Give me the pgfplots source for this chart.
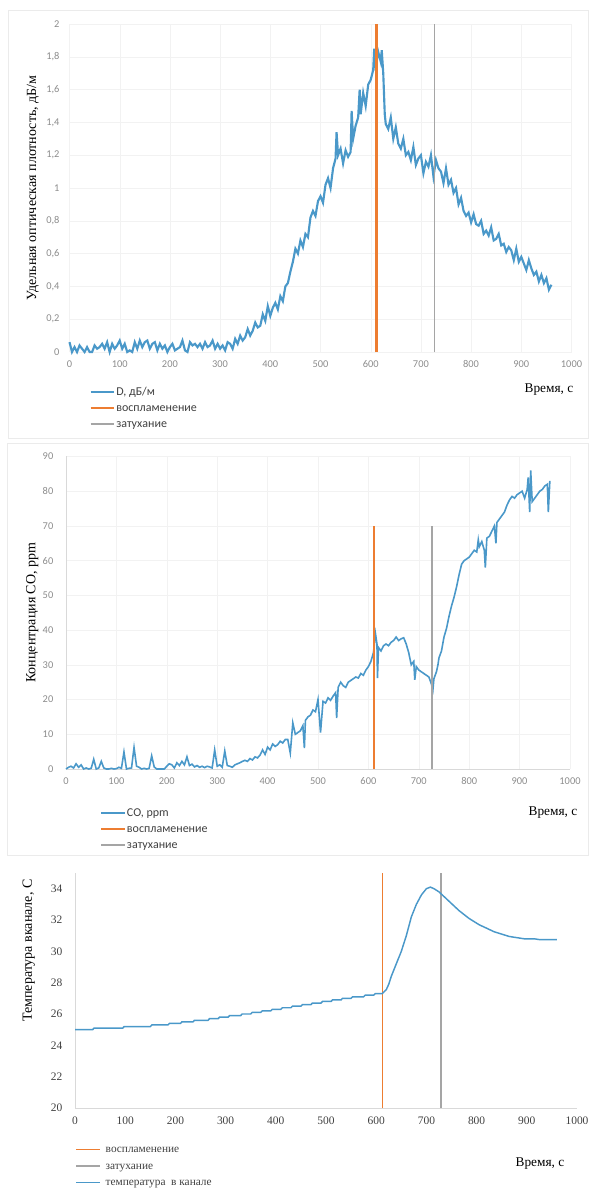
\documentclass[border=0pt]{standalone}
\usepackage{fontspec}
\setmainfont{Liberation Serif}
\newfontfamily\carl{Carlito}
\usepackage{pgfplots}
\usepackage{pgfplotstable}
\pgfplotsset{compat=1.18}
\definecolor{cblue}{RGB}{74,152,201}
\definecolor{corange}{RGB}{237,125,49}
\definecolor{cgray}{RGB}{165,165,165}
\definecolor{tickg}{RGB}{140,140,140}
\definecolor{legtxt}{RGB}{64,64,64}
\definecolor{axg}{RGB}{217,217,217}

\pgfplotstableread[row sep=\\]{
t D\\
0 0.06\\ 5 0\\ 10 0.03\\ 15 0\\ 20 0.04\\ 25 0.02\\ 30 0\\ 35 0.03\\ 40 0\\ 45 0\\
50 0.04\\ 55 0.02\\ 60 0.03\\ 65 0.05\\ 70 0.02\\ 75 0.06\\ 80 0\\ 85 0.05\\ 90 0.02\\ 95 0.04\\
100 0.07\\ 105 0.02\\ 110 0.05\\ 115 0\\ 120 0.01\\ 125 0\\ 130 0.06\\ 135 0.02\\ 140 0.07\\ 145 0.03\\
150 0.06\\ 155 0.07\\ 160 0.02\\ 165 0.05\\ 170 0.06\\ 175 0.01\\ 180 0.05\\ 185 0.02\\ 190 0.04\\ 195 0\\
200 0.03\\ 205 0.05\\ 210 0.01\\ 215 0.02\\ 220 0.03\\ 225 0.07\\ 230 0.01\\ 235 0\\ 240 0.06\\ 245 0.04\\
250 0.05\\ 255 0.03\\ 260 0.05\\ 265 0.02\\ 270 0.06\\ 275 0.03\\ 280 0.04\\ 285 0.07\\ 290 0.02\\ 295 0.05\\
300 0.02\\ 305 0.04\\ 310 0.01\\ 315 0.06\\ 320 0.05\\ 325 0.02\\ 330 0.08\\ 335 0.05\\ 340 0.1\\ 345 0.07\\
350 0.09\\ 355 0.14\\ 360 0.1\\ 365 0.13\\ 370 0.18\\ 375 0.15\\ 380 0.16\\ 385 0.23\\ 390 0.19\\ 395 0.28\\
400 0.22\\ 405 0.27\\ 410 0.3\\ 415 0.26\\ 420 0.34\\ 425 0.31\\ 430 0.4\\ 435 0.42\\ 440 0.49\\ 445 0.55\\
450 0.63\\ 455 0.6\\ 460 0.68\\ 465 0.64\\ 470 0.72\\ 475 0.7\\ 480 0.82\\ 485 0.86\\ 490 0.83\\ 495 0.92\\
500 0.95\\ 505 0.91\\ 510 1.02\\ 515 1.06\\ 520 1.0\\ 525 1.12\\ 530 1.18\\ 532 1.34\\ 535 1.2\\ 540 1.24\\
545 1.15\\ 550 1.23\\ 555 1.19\\ 560 1.22\\ 562 1.47\\ 565 1.3\\ 570 1.38\\ 575 1.43\\ 578 1.6\\ 580 1.45\\
585 1.58\\ 590 1.5\\ 595 1.63\\ 600 1.66\\ 605 1.72\\ 607 1.85\\ 610 1.74\\ 615 1.83\\ 620 1.77\\ 622 1.84\\
625 1.7\\ 628 1.45\\ 630 1.39\\ 635 1.36\\ 640 1.43\\ 645 1.3\\ 650 1.37\\ 655 1.27\\ 660 1.24\\ 665 1.3\\
670 1.2\\ 675 1.22\\ 680 1.17\\ 685 1.25\\ 690 1.14\\ 695 1.18\\ 700 1.2\\ 705 1.09\\ 710 1.16\\ 715 1.13\\
720 1.2\\ 725 1.07\\ 730 1.17\\ 735 1.12\\ 740 1.1\\ 745 1.03\\ 750 1.12\\ 755 1.02\\ 760 1.05\\ 765 0.97\\
770 1.0\\ 775 0.9\\ 780 0.94\\ 785 0.86\\ 790 0.83\\ 795 0.85\\ 800 0.79\\ 805 0.84\\ 810 0.78\\ 815 0.77\\
820 0.8\\ 825 0.72\\ 830 0.74\\ 835 0.71\\ 840 0.76\\ 845 0.68\\ 850 0.69\\ 855 0.72\\ 860 0.65\\ 865 0.66\\
870 0.61\\ 875 0.64\\ 880 0.62\\ 885 0.56\\ 890 0.63\\ 895 0.55\\ 900 0.58\\ 905 0.54\\ 910 0.5\\ 915 0.56\\
920 0.51\\ 925 0.47\\ 930 0.49\\ 935 0.43\\ 940 0.47\\ 945 0.42\\ 950 0.45\\ 955 0.38\\ 960 0.41\\
}\Ddata

\pgfplotstableread[row sep=\\]{
t CO\\
0 0\\ 5 0.5\\ 10 0.8\\ 15 0.3\\ 20 1.5\\ 25 0.5\\ 30 1.2\\ 35 0\\ 40 0.3\\ 45 0\\
50 0.2\\ 55 2.8\\ 60 0\\ 65 0.3\\ 70 2.2\\ 75 0.3\\ 80 0\\ 85 0\\ 90 0.2\\ 95 0\\
100 0.1\\ 105 0.5\\ 110 0.2\\ 115 4.9\\ 120 0\\ 125 0.2\\ 130 0.3\\ 135 6.2\\ 140 0.8\\ 145 0.5\\
150 0\\ 155 0.2\\ 160 0\\ 165 0.2\\ 170 3.8\\ 175 0.6\\ 180 0\\ 185 0\\ 190 0\\ 195 0\\
200 0.8\\ 205 1.5\\ 210 1.2\\ 215 0.3\\ 220 1.8\\ 225 1\\ 230 2.2\\ 235 1.2\\ 240 3.5\\ 245 1\\
250 1.4\\ 255 0.6\\ 260 1\\ 265 0.5\\ 270 0.8\\ 275 0.4\\ 280 0.8\\ 285 0.6\\ 290 0.3\\ 295 5.5\\
300 0.8\\ 305 1.2\\ 310 0.5\\ 315 5.2\\ 320 1\\ 325 0.8\\ 330 0.5\\ 335 1.2\\ 340 1.5\\ 345 1.8\\
350 2.2\\ 355 2.5\\ 360 2.2\\ 365 3\\ 370 2.6\\ 375 3.5\\ 380 3.2\\ 385 4\\ 390 5.5\\ 395 4.2\\
400 6.3\\ 405 5.5\\ 410 7.2\\ 415 6.5\\ 420 7\\ 425 8\\ 430 7.5\\ 435 8.5\\ 440 8.5\\ 445 4.6\\
450 13.3\\ 455 10\\ 460 10.5\\ 465 11\\ 470 12.5\\ 473 6\\ 475 14\\ 480 15\\ 485 15.5\\ 490 17\\
495 16.5\\ 500 20\\ 505 10.5\\ 510 19.5\\ 515 19\\ 520 20.5\\ 525 19.8\\ 530 21\\ 535 22\\ 537 14.7\\
540 23.5\\ 545 25\\ 550 24\\ 555 23.5\\ 560 25\\ 565 25.5\\ 570 26\\ 575 26.5\\ 580 26.2\\ 585 27.5\\
590 27\\ 595 28.5\\ 600 29.5\\ 605 31\\ 610 33.5\\ 614 39\\ 617 36\\ 618 26.2\\ 620 35\\ 625 34\\
630 35.5\\ 635 36\\ 640 35.5\\ 645 36.5\\ 650 37\\ 655 38\\ 660 37\\ 665 37.5\\ 670 37.8\\ 675 36\\
680 33.5\\ 685 30\\ 690 31\\ 692 25.7\\ 695 29.5\\ 700 28.5\\ 705 28\\ 710 27.5\\ 715 27\\ 720 26.5\\
725 24.5\\ 728 22.8\\ 730 26\\ 735 28\\ 738 30\\ 740 32\\ 745 34\\ 750 38\\ 755 40.5\\ 760 44\\
765 47\\ 770 49.5\\ 775 52.5\\ 780 56\\ 785 59\\ 790 60\\ 795 60.5\\ 800 61\\ 805 62\\ 810 63\\
815 62.5\\ 818 66\\ 820 64\\ 825 65.5\\ 830 63\\ 832 58\\ 835 66.5\\ 840 67\\ 845 68.5\\ 850 70\\
853 65\\ 855 71\\ 860 72\\ 865 73\\ 870 74\\ 875 76\\ 880 77.5\\ 885 78.5\\ 890 78\\ 895 79\\
900 79.5\\ 905 80\\ 910 78\\ 915 80.5\\ 917 84\\ 920 74\\ 922 86\\ 925 77\\ 930 78\\ 935 79\\
940 80\\ 945 80.5\\ 950 81.5\\ 955 82\\ 957 74\\ 960 83\\
}\COdata

\pgfplotstableread[row sep=\\]{
t T\\
0 25.0\\ 35 25.0\\ 38 25.1\\ 95 25.1\\ 98 25.2\\ 150 25.2\\ 153 25.3\\ 185 25.3\\ 188 25.4\\ 210 25.4\\
213 25.5\\ 235 25.5\\ 238 25.6\\ 265 25.6\\ 268 25.7\\ 285 25.7\\ 288 25.8\\ 305 25.8\\ 308 25.9\\ 330 25.9\\
333 26.0\\ 350 26.0\\ 353 26.1\\ 370 26.1\\ 373 26.2\\ 390 26.2\\ 393 26.3\\ 410 26.3\\ 413 26.4\\ 430 26.4\\
433 26.5\\ 450 26.5\\ 453 26.6\\ 470 26.6\\ 473 26.7\\ 490 26.7\\ 493 26.8\\ 510 26.8\\ 513 26.9\\ 530 26.9\\
533 27.0\\ 550 27.0\\ 553 27.1\\ 575 27.1\\ 578 27.2\\ 595 27.2\\ 598 27.3\\ 612 27.3\\
615 27.4\\ 620 27.55\\ 625 27.9\\ 630 28.4\\ 640 29.2\\ 650 30.0\\ 660 31.0\\ 670 32.2\\ 680 33.0\\ 690 33.6\\
700 34.0\\ 708 34.1\\ 715 34.0\\ 725 33.8\\ 735 33.5\\ 745 33.2\\ 755 32.9\\ 765 32.6\\ 775 32.35\\ 785 32.1\\
795 31.9\\ 805 31.7\\ 815 31.55\\ 825 31.4\\ 835 31.25\\ 845 31.15\\ 855 31.05\\ 865 30.95\\ 875 30.9\\ 885 30.85\\
895 30.8\\ 905 30.8\\ 915 30.8\\ 925 30.75\\ 940 30.75\\ 960 30.75\\
}\Tdata

\pgfplotsset{
  base/.style={
    scale only axis, anchor=south west,
    xmin=0, xmax=1000,
    xtick={0,100,200,300,400,500,600,700,800,900,1000},
    xticklabels={0,100,200,300,400,500,600,700,800,900,1000},
    major tick length=0pt,
    axis line style={draw=none},
    legend cell align=left,
    clip=false,
    legend image code/.code={\draw[##1, line width=1.2pt] (0cm,0cm) -- (0.62cm,0cm);},
    ylabel style={font=\fontsize{10.5}{12}\selectfont, anchor=center},
  },
  sansticks/.style={
    ticklabel style={font=\carl\fontsize{7.8}{9}\selectfont, text=tickg},
    ymajorgrids, xmajorgrids,
    major grid style={black!5, line width=0.3pt},
    legend style={draw=none, fill=none, font=\carl\fontsize{9}{10}\selectfont, text=legtxt,
      inner sep=0pt, row sep=1.5pt, nodes={inner sep=1pt, text height=6.5pt, text depth=2pt}},
  },
}

\begin{document}
\begin{tikzpicture}
\useasboundingbox (0,0) rectangle (442.5pt,-891.75pt);
\draw[black!8, line width=0.5pt] (6pt,-7.5pt) rectangle (441pt,-328.5pt);
\draw[black!8, line width=0.5pt] (5.25pt,-332.25pt) rectangle (441pt,-641.25pt);

% ---------- Panel 1 ----------
\begin{axis}[base, sansticks,
  at={(52.125pt,-264pt)}, width=376.5pt, height=246pt,
  ymin=0, ymax=2,
  ytick={0,0.2,0.4,0.6,0.8,1,1.2,1.4,1.6,1.8,2},
  yticklabels={0,{0,2},{0,4},{0,6},{0,8},1,{1,2},{1,4},{1,6},{1,8},2},
  yticklabel style={xshift=-4pt},
  xticklabel style={yshift=-3pt},
  ylabel={Удельная оптическая плотность, дБ/м},
  ylabel style={at={(axis description cs:-0.073,0.5)}},
  legend style={at={(axis description cs:0.04,-0.1)}, anchor=north west},
]
\addplot[cblue, line width=1.6pt] table[x=t,y=D]{\Ddata};
\addlegendentry{D, дБ/м}
\addplot[corange, line width=2pt] coordinates {(612,0) (612,2)};
\addlegendentry{воспламенение}
\addplot[cgray, line width=1pt] coordinates {(727,0) (727,2)};
\addlegendentry{затухание}
\end{axis}
\node[font=\fontsize{10}{12}\selectfont] at (411.75pt,-292.5pt) {Время, с};

% ---------- Panel 2 ----------
\begin{axis}[base, sansticks,
  at={(49.5pt,-576.75pt)}, width=378pt, height=234.4pt,
  ymin=0, ymax=90,
  ytick={0,10,20,30,40,50,60,70,80,90},
  yticklabels={0,10,20,30,40,50,60,70,80,90},
  yticklabel style={xshift=-6pt},
  xticklabel style={yshift=-3pt},
  ylabel={Концентрация CO, ppm},
  ylabel style={at={(axis description cs:-0.067,0.5)}},
  legend style={at={(axis description cs:0.068,-0.118)}, anchor=north west},
]
\draw[axg, line width=0.6pt] (axis cs:0,0) -- (axis cs:1000,0);
\draw[axg, line width=0.6pt] (axis cs:0,0) -- (axis cs:0,90);
\addplot[cblue, line width=1.2pt] table[x=t,y=CO]{\COdata};
\addlegendentry{CO, ppm}
\addplot[corange, line width=1pt] coordinates {(611,0) (611,70)};
\addlegendentry{воспламенение}
\addplot[cgray, line width=1pt] coordinates {(726,0) (726,70)};
\addlegendentry{затухание}
\end{axis}
\node[font=\fontsize{10}{12}\selectfont] at (414.75pt,-609.75pt) {Время, с};

% ---------- Panel 3 ----------
\begin{axis}[base,
  at={(56.25pt,-831pt)}, width=376.5pt, height=176.25pt,
  ymin=20, ymax=35,
  ytick={20,22,24,26,28,30,32,34},
  yticklabels={20,22,24,26,28,30,32,34},
  ticklabel style={font=\fontsize{8.6}{10}\selectfont, text=legtxt},
  yticklabel style={xshift=-6pt},
  xticklabel style={yshift=-3pt},
  ylabel={Температура вканале, С},
  ylabel style={at={(axis description cs:-0.092,0.67)}},
  legend style={draw=none, fill=none, font=\fontsize{8.5}{10}\selectfont, text=legtxt,
      inner sep=0pt, row sep=2pt, column sep=3pt, nodes={inner sep=1pt, text height=6.5pt, text depth=2pt},
      at={(axis description cs:0.0,-0.145)}, anchor=north west},
]
\draw[axg, line width=0.6pt] (axis cs:0,20) -- (axis cs:1000,20);
\draw[axg, line width=0.6pt] (axis cs:0,20) -- (axis cs:0,35);
\addplot[corange, line width=1pt] coordinates {(613,20) (613,35)};
\addlegendentry{воспламенение}
\addplot[cgray, line width=0.9pt] coordinates {(729,20) (729,35)};
\addlegendentry{затухание}
\addplot[cblue, line width=1.1pt] table[x=t,y=T]{\Tdata};
\addlegendentry{температура\ \ в канале}
\end{axis}
\node[font=\fontsize{10}{12}\selectfont] at (405pt,-873pt) {Время, с};
\end{tikzpicture}
\end{document}
